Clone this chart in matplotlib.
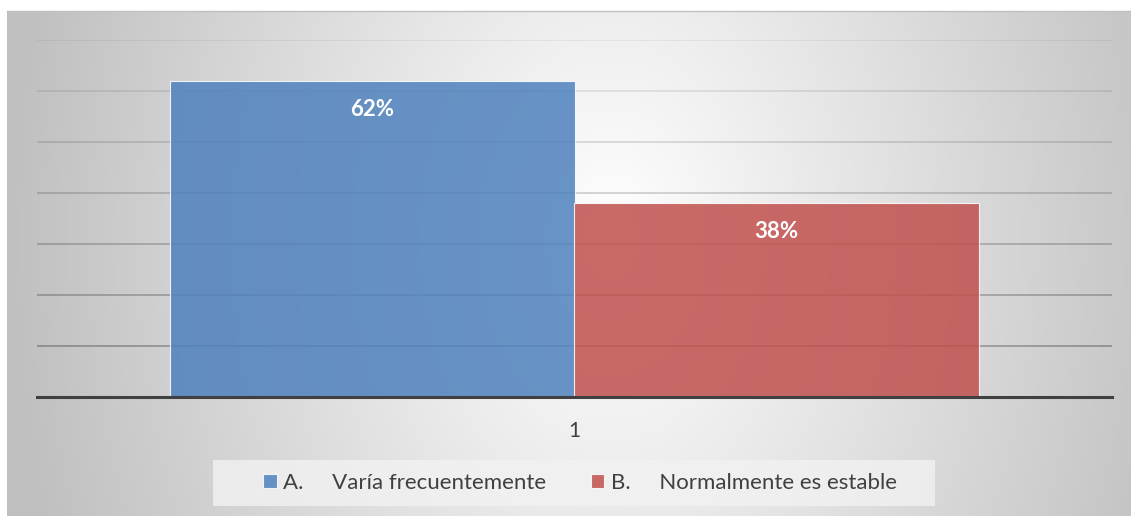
import numpy as np
import matplotlib
matplotlib.use("Agg")
import matplotlib.pyplot as plt
from matplotlib.patches import Rectangle

# data
categories = ["1"]
series_names = ["A.     Varía frecuentemente", "B.     Normalmente es estable"]
series_values = [0.62, 0.38]
series_colors = ["#4F81BD", "#C0504D"]
y_ticks = [0.0, 0.1, 0.2, 0.3, 0.4, 0.5, 0.6, 0.7]

W, H = 1131, 516
plt.rcParams["font.family"] = ["Lato", "DejaVu Sans"]

fig = plt.figure(figsize=(W / 100, H / 100), dpi=100)
fig.patch.set_facecolor("white")

# radial grey-to-white chart area background
bg = fig.add_axes([7 / W, 0, (W - 7) / W, (H - 11) / H])
xs = np.arange(7, W)
ys = np.arange(11, H)
X, Y = np.meshgrid(xs, ys)
t = np.sqrt(((X - 610) / 600.0) ** 2 + ((Y - 240) / 850.0) ** 2)
t = np.clip(t, 0, 1)
g = (255 - 63 * t) / 255.0
bg.imshow(np.dstack([g, g, g]), aspect="auto", extent=[0, 1, 0, 1], origin="upper")
bg.axis("off")
fig.add_artist(plt.Line2D([7 / W, 1], [(H - 11) / H] * 2, color="#c0c0c0", lw=1.0))

ax = fig.add_axes([37 / W, (H - 397) / H, (1112 - 37) / W, (397 - 40) / H])
ax.set_facecolor("none")
ax.set_axisbelow(True)

width = 0.376
offsets = [-width / 2, width / 2]
x0 = np.arange(len(categories)) + 1
bars = []
for name, val, col, off in zip(series_names, series_values, series_colors, offsets):
    b = ax.bar(x0 + off, [val], width=width, color=col, alpha=0.85,
               edgecolor="white", linewidth=0.8, label=name)
    bars.append(b)
    ax.text(x0[0] + off, val - 0.056, f"{val:.0%}", ha="center", va="center",
            color="white", fontsize=16, fontweight="bold")

ax.set_xlim(0.5, 1.5)
ax.set_ylim(0, 0.7)
ax.set_yticks(y_ticks)
ax.set_xticks(x0)
ax.set_xticklabels(categories, fontsize=15, color="#404040")
ax.tick_params(axis="both", length=0)
ax.tick_params(axis="x", pad=17)
ax.set_yticklabels([])
ax.grid(axis="y", color="black", lw=1.3)
gl = ax.get_ygridlines()
for i, line in enumerate(gl):
    line.set_alpha(0.32 - 0.038 * i)
for s in ["top", "right", "left"]:
    ax.spines[s].set_visible(False)
ax.spines["bottom"].set_color("#404040")
ax.spines["bottom"].set_linewidth(2.2)

# legend background box
fig.add_artist(Rectangle((213 / W, 1 - 506 / H), (935 - 213) / W, 46 / H,
                         transform=fig.transFigure, facecolor="#f2f2f2",
                         alpha=0.8, edgecolor="none"))
leg = fig.legend(handles=[b[0] for b in bars], labels=series_names, ncol=2,
                 loc="center", bbox_to_anchor=(580 / W, 1 - 483 / H),
                 fontsize=16, frameon=False, handlelength=0.6,
                 handleheight=0.6, handletextpad=0.3, columnspacing=2.0,
                 borderpad=0, borderaxespad=0)
for txt in leg.get_texts():
    txt.set_color("#404040")

fig.savefig("out.png", dpi=100)
